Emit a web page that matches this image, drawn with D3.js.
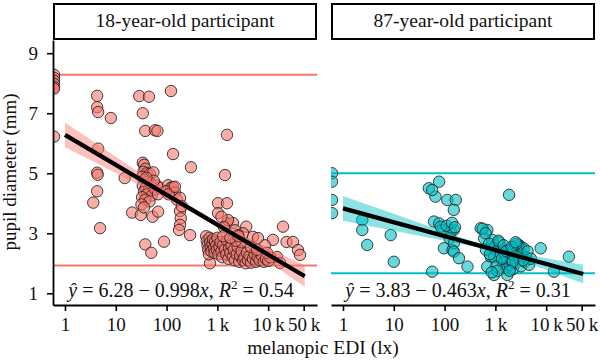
<!DOCTYPE html>
<html><head><meta charset="utf-8">
<script src="https://cdn.jsdelivr.net/npm/d3@7"></script>
<style>body{margin:0;background:#fff} text{font-family:"Liberation Serif","Times New Roman",serif}</style>
</head><body><svg id="c" width="600" height="361"></svg>
<script>
// ---------------- data ----------------
const panelTitles = ["18-year-old participant", "87-year-old participant"];
const xTicks = [1, 10, 100, 1000, 10000, 50000];
const xTickLabels = ["1", "10", "100", "1\u2009k", "10\u2009k", "50\u2009k"];
const yTicks = [1, 3, 5, 7, 9];
const groupColors = ["#F8766D", "#00BFC4"];

// [melanopic EDI (lx), pupil diameter (mm)]; lux 0 = below axis range (drawn at panel edge)
const young = [
  [0,8.28],[0,8.18],[0,8.08],[0,7.98],[0,7.88],[0,7.82],[0,6.22],
  [4.3,7.58],[4.3,7.2],[4.5,7.04],[8.0,6.84],[4.5,5.82],[4.3,5.02],[4.4,4.95],[4.3,4.4],[3.6,4.02],[4.9,3.17],
  [15,4.84],[21,3.69],[31,3.61],[53,3.55],[68,3.72],[38,2.63],[50,2.35],[89,2.72],
  [29,7.57],[45,7.55],[122,7.74],[34,7.0],[38,6.41],[59,6.43],[66,6.41],
  [134,5.64],[302,5.2],[1410,4.94],[1545,6.28],
  [34,5.35],[36,5.28],[38,5.15],[35,5.05],[41,5.0],[47,4.98],[55,5.03],[33,4.88],[37,4.78],[42,4.72],
  [48,4.66],[34,4.58],[39,4.52],[45,4.46],[36,4.38],[41,4.3],[51,4.26],[33,4.2],[38,4.12],[46,4.06],
  [60,4.46],[64,4.6],[72,4.52],[32,3.96],[36,3.86],[56,4.75],[68,4.3],[40,4.85],
  [107,4.6],[122,4.52],[134,4.54],[146,4.36],[160,4.12],[184,4.18],[184,3.74],[190,3.5],[184,3.28],[176,3.11],
  [290,2.94],[98,4.4],[110,4.3],[200,3.9],[146,4.55],
  [1030,4.0],[1545,4.0],[1030,3.67],[1545,3.34],[2030,3.34],[3700,3.22],[1620,3.44],[2220,3.1],[3190,3.0],[1200,3.55],[1350,3.2],
  [12400,2.78],[19600,3.22],[23000,2.71],[30800,2.71],[38600,2.44],[42300,2.28],[14900,2.21],[17100,2.01],
  [5020,2.88],[6300,2.84],[8650,2.6],[2550,2.94],[715,2.0],
  [600,2.9],[620,2.75],[640,2.6],[660,2.45],[680,2.3],[700,2.85],[720,2.7],[740,2.55],[760,2.4],[800,2.65],
  [820,2.8],[850,2.5],[880,2.35],[900,2.72],[950,2.6],[980,2.45],[1000,2.85],[1050,2.3],[1100,2.55],[1150,2.7],
  [1200,2.4],[1250,2.2],[1300,2.6],[1400,2.45],[1500,2.3],[1550,2.75],[1650,2.15],[1700,2.5],[1800,2.35],[1900,2.6],
  [2000,2.2],[2100,2.45],[2200,2.1],[2400,2.3],[2500,2.55],[2700,2.05],[2800,2.25],[3000,2.4],[3200,2.1],[3400,2.2],
  [3600,2.0],[3800,2.35],[4000,2.1],[4300,2.25],[4600,2.02],[5000,2.15],[5400,2.3],[5800,2.05],[6200,2.2],[6800,2.1],
  [7500,2.25],[8200,2.05],[9000,2.15],[10000,2.08],[11000,2.2],[3000,2.7],[2300,2.75],[1300,2.9],[1800,2.85],
  [4500,2.55],[6000,2.45],[9500,2.35],[2600,2.9]
];
const old = [
  [0,5.0],[0,4.72],[0,4.11],[0,3.67],
  [2.4,3.44],[2.4,3.11],[3.0,2.61],[8.7,2.94],[10,2.05],[57,1.72],
  [49,4.5],[78,4.72],[66,4.22],[113,4.11],[166,4.11],[152,3.78],[57,4.44],
  [62,3.39],[78,3.33],[90,3.11],[152,3.11],[97,2.5],[143,2.44],[132,3.05],[125,2.83],[152,2.67],[152,2.39],
  [192,2.17],[282,1.89],[84,3.22],[110,3.25],[140,3.35],[160,3.2],
  [1860,4.28],
  [514,3.17],[694,3.11],[600,2.83],[870,2.78],[810,2.22],[694,1.89],[940,1.61],[1720,1.61],[560,3.15],[640,3.0],
  [7800,2.5],[28000,2.22],[14200,1.72],[2900,2.61],[3150,2.55],
  [1000,2.6],[1100,2.4],[1200,2.2],[1300,2.5],[1400,2.0],[1500,2.35],[1600,1.85],[1700,2.15],[1800,2.45],[1900,1.95],
  [2000,2.3],[2100,2.1],[2200,1.8],[2300,2.5],[2400,2.25],[2500,2.0],[2700,2.4],[2800,2.6],[3000,2.15],[3200,1.9],
  [3400,2.3],[3600,2.5],[3800,2.05],[4000,2.2],[4300,2.4],[4600,1.95],[5000,2.15],[1200,2.7],[900,2.5],[950,2.2],
  [1050,1.9],[2600,2.65],
  [650,2.45],[750,2.65],[780,2.3],[1150,2.75],[1350,2.15],[1450,2.6],[1650,2.4],[2100,2.55],[2500,2.7],[3500,2.1],
  [2200,2.05],[1900,1.75],[1100,1.75],[850,1.7]
];
const groups = [young, old];

// fitted lines: y = a + b*log10(lux)
const fitIntercept = [6.28, 3.83];
const fitSlope = [-0.998, -0.463];
const fitR2 = ["0.54", "0.31"];
const fitLuxRange = [[1, 52500], [1, 53500]];
// confidence band half-widths (mm) read at lux positions
const bandYoung = [[1,0.41],[10,0.27],[100,0.14],[400,0.09],[1600,0.11],[10000,0.23],[52500,0.36]];
const bandOld   = [[1,0.41],[10,0.28],[100,0.15],[600,0.08],[3000,0.12],[15000,0.22],[53500,0.31]];
const bands = [bandYoung, bandOld];
// horizontal reference lines (mm)
const refLines = [[8.28, 1.93], [5.0, 1.67]];

// ---------------- layout ----------------
const svg = d3.select("#c");
const panelX = [[53, 317], [331, 595]];
const pTop = 40, pBottom = 305;
const y = d3.scaleLinear().domain([0.61, 9.44]).range([pBottom, pTop]);
const luxDomain = [0.581, 91400];
const FONT = "Liberation Serif";

panelX.forEach((pr, i) => {
  const x = d3.scaleLog().domain(luxDomain).range(pr);
  const col = groupColors[i];
  const g = svg.append("g");
  const clipId = "clip" + i;
  svg.append("clipPath").attr("id", clipId).append("rect")
    .attr("x", pr[0]).attr("y", pTop).attr("width", pr[1] - pr[0]).attr("height", pBottom - pTop);
  const pg = g.append("g").attr("clip-path", `url(#${clipId})`);

  // reference lines
  pg.selectAll("line.ref").data(refLines[i]).join("line")
    .attr("x1", pr[0]).attr("x2", pr[1]).attr("y1", d => y(d)).attr("y2", d => y(d))
    .attr("stroke", col).attr("stroke-width", 2);

  // points
  pg.selectAll("circle").data(groups[i]).join("circle")
    .attr("cx", d => d[0] > 0 ? x(d[0]) : pr[0] + 1)
    .attr("cy", d => y(d[1]))
    .attr("r", 5.7)
    .attr("fill", col).attr("fill-opacity", 0.6)
    .attr("stroke", "#222").attr("stroke-opacity", 0.85).attr("stroke-width", 1);

  // ribbon
  const a = fitIntercept[i], b = fitSlope[i];
  const fit = l => a + b * Math.log10(l);
  const area = d3.area().curve(d3.curveMonotoneX)
    .x(d => x(d[0])).y0(d => y(fit(d[0]) - d[1])).y1(d => y(fit(d[0]) + d[1]));
  pg.append("path").datum(bands[i]).attr("d", area)
    .attr("fill", col).attr("fill-opacity", 0.45);

  // fit line
  pg.append("line")
    .attr("x1", x(fitLuxRange[i][0])).attr("y1", y(fit(fitLuxRange[i][0])))
    .attr("x2", x(fitLuxRange[i][1])).attr("y2", y(fit(fitLuxRange[i][1])))
    .attr("stroke", "#000").attr("stroke-width", 4.2);

  // annotation
  const t = g.append("text").attr("x", i === 0 ? 181 : 458).attr("y", 297)
    .attr("text-anchor", "middle").attr("font-size", 20).attr("fill", "#111").attr("font-family", FONT);
  t.append("tspan").attr("font-style", "italic").text("\u0177");
  t.append("tspan").text(` = ${a.toFixed(2)} \u2212 ${Math.abs(b).toFixed(3)}`);
  t.append("tspan").attr("font-style", "italic").text("x");
  t.append("tspan").text(", ");
  t.append("tspan").attr("font-style", "italic").text("R");
  t.append("tspan").attr("font-size", 13).attr("dy", -8).text("2");
  t.append("tspan").attr("dy", 8).text(` = ${fitR2[i]}`);

  // x axis
  const xa = g.append("g").attr("transform", `translate(0,${pBottom})`)
    .call(d3.axisBottom(x).tickValues(xTicks).tickFormat((d, j) => xTickLabels[j]).tickSize(6).tickSizeOuter(0).tickPadding(7));
  xa.select(".domain").attr("stroke-width", 1.8).attr("stroke", "#000");
  xa.selectAll(".tick line").attr("stroke-width", 1.6).attr("stroke", "#000");
  xa.selectAll("text").attr("font-size", 19).attr("fill", "#111").style("font-family", FONT);

  // strip
  g.append("rect").attr("x", pr[0] + 1).attr("y", 4).attr("width", pr[1] - pr[0] - 2).attr("height", 35)
    .attr("fill", "#fff").attr("stroke", "#000").attr("stroke-width", 2);
  g.append("text").attr("x", (pr[0] + pr[1]) / 2).attr("y", 27).attr("text-anchor", "middle")
    .attr("font-size", 19.5).attr("fill", "#111").attr("font-family", FONT).text(panelTitles[i]);

  if (i === 0) {
    const ya = g.append("g").attr("transform", `translate(${pr[0]},0)`)
      .call(d3.axisLeft(y).tickValues(yTicks).tickSize(6).tickSizeOuter(0).tickPadding(9));
    ya.select(".domain").attr("stroke-width", 1.8).attr("stroke", "#000");
    ya.selectAll(".tick line").attr("stroke-width", 1.6).attr("stroke", "#000");
    ya.selectAll("text").attr("font-size", 19).attr("fill", "#111").style("font-family", FONT);
  }
});

svg.append("text").attr("transform", `translate(16,172) rotate(-90)`)
  .attr("text-anchor", "middle").attr("font-size", 19).attr("fill", "#111").attr("font-family", FONT).text("pupil diameter (mm)");
svg.append("text").attr("x", 323).attr("y", 354).attr("text-anchor", "middle")
  .attr("font-size", 19.5).attr("fill", "#111").attr("font-family", FONT).text("melanopic EDI (lx)");
</script></body></html>
